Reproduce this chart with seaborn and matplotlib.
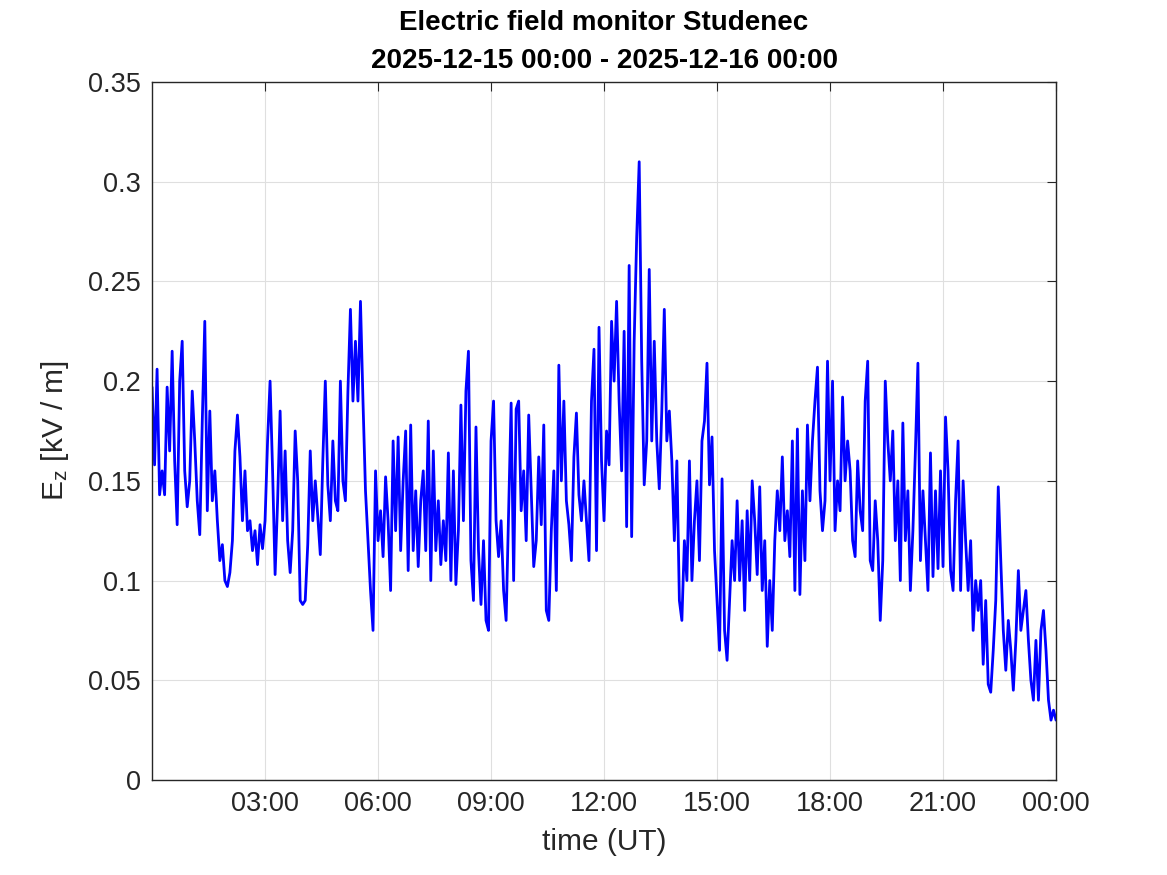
import numpy as np
import pandas as pd
import matplotlib
matplotlib.use("Agg")
import matplotlib.pyplot as plt
from matplotlib.ticker import FuncFormatter
import seaborn as sns

# =========================
# Data: Ez [kV/m], one value every 4 minutes, 2025-12-15 00:00 .. 2025-12-16 00:00
# =========================
start = "2025-12-15 00:00"
step_min = 4

ez_night = [  # 00:00 - 06:00
    0.197, 0.158, 0.206, 0.143, 0.155, 0.143, 0.197, 0.165, 0.215, 0.16, 0.128, 0.2, 0.22, 0.155, 0.137,
    0.15, 0.195, 0.17, 0.14, 0.123, 0.18, 0.23, 0.135, 0.185, 0.14, 0.155, 0.13, 0.11, 0.118, 0.1,
    0.097, 0.104, 0.12, 0.165, 0.183, 0.162, 0.13, 0.155, 0.125, 0.13, 0.115, 0.125, 0.108, 0.128, 0.116,
    0.13, 0.17, 0.2, 0.155, 0.103, 0.14, 0.185, 0.13, 0.165, 0.12, 0.104, 0.125, 0.175, 0.15, 0.09,
    0.088, 0.09, 0.118, 0.165, 0.13, 0.15, 0.132, 0.113, 0.16, 0.2, 0.148, 0.13, 0.17, 0.14, 0.135,
    0.2, 0.15, 0.14, 0.195, 0.236, 0.19, 0.22, 0.19, 0.24, 0.19, 0.145, 0.12, 0.095, 0.075, 0.155,
]
ez_morning = [  # 06:00 - 12:00
    0.12, 0.135, 0.112, 0.152, 0.13, 0.095, 0.17, 0.125, 0.172, 0.115, 0.15, 0.175, 0.105, 0.178, 0.115,
    0.145, 0.107, 0.14, 0.155, 0.115, 0.18, 0.1, 0.165, 0.115, 0.14, 0.108, 0.13, 0.11, 0.164, 0.1,
    0.155, 0.098, 0.125, 0.188, 0.13, 0.195, 0.215, 0.11, 0.09, 0.177, 0.115, 0.088, 0.12, 0.08, 0.075,
    0.17, 0.19, 0.13, 0.112, 0.13, 0.095, 0.08, 0.135, 0.189, 0.1, 0.186, 0.19, 0.135, 0.155, 0.12,
    0.183, 0.145, 0.107, 0.12, 0.162, 0.128, 0.178, 0.085, 0.08, 0.125, 0.155, 0.095, 0.208, 0.15, 0.19,
    0.14, 0.128, 0.11, 0.162, 0.184, 0.143, 0.13, 0.15, 0.13, 0.11, 0.19, 0.216, 0.115, 0.227, 0.16,
]
ez_afternoon = [  # 12:00 - 18:00
    0.13, 0.175, 0.158, 0.23, 0.2, 0.24, 0.19, 0.155, 0.225, 0.127, 0.258, 0.122, 0.22, 0.272, 0.31,
    0.21, 0.148, 0.17, 0.256, 0.17, 0.22, 0.17, 0.146, 0.185, 0.236, 0.17, 0.185, 0.16, 0.12, 0.16,
    0.09, 0.08, 0.12, 0.1, 0.16, 0.1, 0.13, 0.15, 0.11, 0.17, 0.18, 0.209, 0.148, 0.172, 0.115,
    0.09, 0.065, 0.151, 0.075, 0.06, 0.09, 0.12, 0.1, 0.14, 0.1, 0.13, 0.085, 0.135, 0.1, 0.15,
    0.13, 0.103, 0.147, 0.095, 0.12, 0.067, 0.1, 0.075, 0.12, 0.145, 0.125, 0.162, 0.12, 0.135, 0.112,
    0.17, 0.095, 0.176, 0.093, 0.145, 0.11, 0.178, 0.14, 0.17, 0.19, 0.207, 0.145, 0.125, 0.14, 0.21,
]
ez_evening = [  # 18:00 - 24:00
    0.15, 0.2, 0.125, 0.15, 0.135, 0.192, 0.15, 0.17, 0.155, 0.12, 0.112, 0.16, 0.135, 0.125, 0.19,
    0.21, 0.11, 0.105, 0.14, 0.12, 0.08, 0.11, 0.2, 0.17, 0.15, 0.175, 0.12, 0.15, 0.1, 0.179,
    0.12, 0.145, 0.095, 0.125, 0.165, 0.209, 0.11, 0.145, 0.12, 0.095, 0.164, 0.102, 0.145, 0.106, 0.155,
    0.107, 0.182, 0.155, 0.105, 0.095, 0.14, 0.17, 0.095, 0.15, 0.12, 0.095, 0.12, 0.075, 0.1, 0.085,
    0.1, 0.058, 0.09, 0.048, 0.044, 0.065, 0.09, 0.147, 0.11, 0.075, 0.055, 0.08, 0.065, 0.045, 0.07,
    0.105, 0.075, 0.085, 0.095, 0.07, 0.05, 0.04, 0.07, 0.04, 0.075, 0.085, 0.065, 0.04, 0.03, 0.035,
    0.03,
]

xtick_labels = ["03:00", "06:00", "09:00", "12:00", "15:00", "18:00", "21:00", "00:00"]
yticks = [0, 0.05, 0.1, 0.15, 0.2, 0.25, 0.3, 0.35]

ez = ez_night + ez_morning + ez_afternoon + ez_evening
df = pd.DataFrame({
    "time": pd.date_range(start, periods=len(ez), freq=f"{step_min}min"),
    "ez": ez,
})

# =========================
# Style (MATLAB-like look)
# =========================
sns.set_style("white")
plt.rcParams["font.family"] = ["Liberation Sans", "DejaVu Sans"]
plt.rcParams["mathtext.fontset"] = "custom"
plt.rcParams["mathtext.rm"] = "Liberation Sans"
plt.rcParams["mathtext.it"] = "Liberation Sans"
dark = "#262626"

fig = plt.figure(figsize=(11.67, 8.75), dpi=100)
ax = fig.add_axes([0.1303, 0.1086, 0.7746, 0.7977])

sns.lineplot(data=df, x="time", y="ez", ax=ax, color="#0000ff", linewidth=2.0, estimator=None)

t0 = df["time"].iloc[0]
t1 = df["time"].iloc[-1]
ax.set_xlim(t0, t1)
ax.set_ylim(0, 0.35)

xticks = pd.date_range(t0 + pd.Timedelta(hours=3), t1, freq="3h")
ax.set_xticks(xticks)
ax.set_xticklabels(xtick_labels)
ax.set_yticks(yticks)
ax.yaxis.set_major_formatter(FuncFormatter(lambda v, p: f"{v:g}"))

ax.grid(True, color="#dfdfdf", linewidth=0.8)
ax.set_axisbelow(True)
for s in ax.spines.values():
    s.set_color(dark)
    s.set_linewidth(1.0)
ax.tick_params(direction="in", length=6.5, width=0.8, colors=dark,
               top=True, right=True, labelsize=19.5, pad=8)

ax.set_xlabel("time (UT)", fontsize=21.5, color=dark, labelpad=8)
ax.set_ylabel(r"E$_{\mathrm{z}}$ [kV / m]", fontsize=21.5, color=dark, labelpad=12)
ax.set_title("Electric field monitor Studenec\n2025-12-15 00:00 - 2025-12-16 00:00",
             fontsize=20, fontweight="bold", color="black", linespacing=1.6, pad=10)

fig.savefig("out.png", dpi=100)
